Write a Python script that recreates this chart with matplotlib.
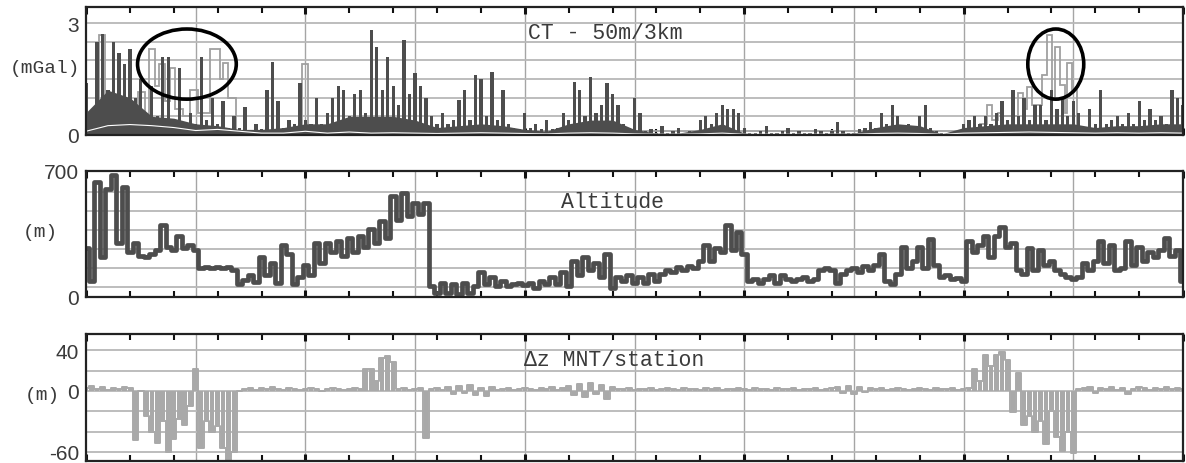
import numpy as np
import matplotlib
matplotlib.use("Agg")
import matplotlib.pyplot as plt
from matplotlib.patches import Ellipse

# ---------------- data ----------------
# Panel 1: CT - 50m/3km (mGal), dark series sampled every 5 units along track (0..1000)
ct_dark = [1.4, 0.2, 2.5, 2.7, 1.2, 2.5, 2.2, 1.9, 2.3, 1.0,
           1.5, 0.5, 1.3, 0.5, 2.1, 2.1, 0.4, 1.8, 0.3, 0.6,
           0.3, 2.1, 0.4, 1.0, 0.3, 0.9, 0.2, 0.5, 0.2, 0.75,
           0.1, 0.3, 0.15, 1.2, 1.96, 0.9, 0.2, 0.4, 0.3, 1.4,
           0.4, 0.3, 1.0, 0.3, 0.6, 1.0, 1.3, 1.2, 0.5, 1.1,
           1.2, 0.6, 2.8, 2.36, 1.2, 2.1, 1.3, 0.8, 2.55, 1.1,
           1.66, 1.3, 1.0, 0.5, 0.3, 0.6, 0.3, 0.4, 0.94, 1.2,
           0.4, 1.6, 1.5, 0.5, 1.7, 0.4, 1.2, 0.3, 0.2, 0.15,
           0.6, 0.2, 0.3, 0.15, 0.4, 0.15, 0.2, 0.6, 0.4, 1.42,
           1.2, 0.5, 1.56, 0.6, 0.8, 1.4, 1.1, 0.8, 0.3, 0.2,
           1.0, 0.6, 0.1, 0.15, 0.05, 0.25, 0.05, 0.1, 0.2, 0.05,
           0.1, 0.05, 0.4, 0.5, 0.3, 0.6, 0.8, 0.7, 0.7, 0.6,
           0.2, 0.05, 0.05, 0.1, 0.25, 0.05, 0.05, 0.1, 0.2, 0.05,
           0.1, 0.05, 0.05, 0.15, 0.1, 0.05, 0.1, 0.35, 0.1, 0.05,
           0.05, 0.15, 0.2, 0.35, 0.2, 0.6, 0.3, 0.8, 0.5, 0.2,
           0.3, 0.2, 0.5, 0.8, 0.2, 0.1, 0.05, 0.05, 0.05, 0.05,
           0.3, 0.4, 0.5, 0.3, 0.5, 0.3, 0.6, 0.9, 0.4, 1.2,
           0.5, 1.0, 0.4, 0.8, 0.8, 0.4, 1.2, 0.7, 1.0, 0.5,
           0.9, 0.6, 0.2, 0.7, 0.3, 1.2, 0.3, 0.4, 0.5, 0.3,
           0.6, 0.3, 0.9, 0.4, 0.7, 0.4, 0.5, 0.3, 1.2, 1.0,
           0.8]

# dense dark band near the base, every 20 units
ct_band = [0.6, 1.2, 1.0, 0.5, 0.45, 0.3, 0.25, 0.15, 0.15, 0.2,
           0.3, 0.3, 0.5, 0.5, 0.5, 0.4, 0.2, 0.25, 0.3, 0.25,
           0.15, 0.1, 0.3, 0.4, 0.4, 0.15, 0.05, 0.05, 0.15, 0.3,
           0.05, 0.03, 0.03, 0.03, 0.05, 0.05, 0.2, 0.3, 0.25, 0.03,
           0.2, 0.25, 0.3, 0.3, 0.3, 0.3, 0.2, 0.25, 0.25, 0.3,
           0.3]

# white trace near the base, every 20 units
ct_white = [0.1, 0.25, 0.28, 0.25, 0.2, 0.12, 0.15, 0.1, 0.05, 0.05,
            0.1, 0.05, 0.08, 0.05, 0.06, 0.05, 0.04, 0.05, 0.06, 0.05,
            0.04, 0.03, 0.05, 0.06, 0.05, 0.03, 0.02, 0.02, 0.03, 0.05,
            0.02, 0.02, 0.02, 0.02, 0.02, 0.02, 0.04, 0.05, 0.04, 0.02,
            0.05, 0.06, 0.07, 0.08, 0.07, 0.06, 0.05, 0.06, 0.05, 0.06,
            0.05]

# light grey series (step boxes): interval edges and values
ct_light_edges = [0, 12, 17, 47, 54, 57, 63, 67, 72, 77,
                  81, 88, 95, 102, 113, 122, 125, 129, 137, 197,
                  202, 815, 821, 826, 831, 836, 850, 854, 858, 862,
                  871, 876, 881, 883, 888, 892, 894, 899, 903, 1000]
ct_light_vals = [0.3, 2.68, 0.8, 1.15, 0.5, 2.3, 1.3, 1.9, 0.9, 1.8,
                 0.7, 0.5, 1.2, 0.6, 2.3, 1.5, 1.93, 1.0, 0.1, 1.9,
                 0.1, 0.3, 0.8, 0.4, 0.6, 0.5, 1.12, 0.7, 1.28, 0.8,
                 1.6, 2.68, 1.0, 2.36, 1.34, 0.6, 1.93, 1.2, 0.1]

# Panel 2: Altitude (m), every 5 units
altitude = [270, 90, 640, 220, 600, 680, 300, 610, 250, 300,
            230, 220, 240, 260, 400, 280, 260, 340, 270, 290,
            260, 160, 165, 160, 165, 160, 165, 150, 70, 95,
            120, 85, 220, 120, 190, 80, 290, 240, 70, 110,
            180, 120, 300, 190, 300, 250, 310, 230, 330, 250,
            340, 280, 380, 300, 420, 330, 560, 430, 580, 450,
            520, 460, 520, 60, 20, 80, 20, 70, 15, 75,
            20, 60, 140, 70, 110, 60, 90, 60, 70, 80,
            65, 80, 50, 90, 70, 110, 70, 140, 60, 200,
            120, 220, 150, 190, 110, 240, 50, 110, 90, 120,
            80, 110, 80, 130, 90, 130, 150, 140, 165, 150,
            170, 160, 200, 290, 200, 270, 250, 400, 260, 360,
            240, 90, 100, 80, 100, 120, 80, 120, 100, 90,
            100, 110, 90, 100, 150, 160, 150, 75, 130, 150,
            160, 140, 170, 150, 180, 240, 90, 70, 130, 280,
            160, 200, 280, 160, 320, 180, 110, 120, 100, 105,
            90, 310, 250, 290, 340, 220, 340, 390, 280, 300,
            150, 130, 270, 150, 260, 180, 200, 150, 130, 110,
            100, 110, 190, 150, 200, 310, 190, 290, 150, 160,
            310, 180, 280, 200, 250, 220, 260, 330, 230, 260,
            90]

# Panel 3: dz MNT/station (m), every 5 units
dz = [3, 5, 2, 4, 1, 3, 2, 4, 3,
      -48, 0, -25, -40, -51, -30, -60, -47, -28, -34, -15, 22, -56, -30, -40, -35, -56, -69, -60, 0,
      2, 3, 1, 3, 2, 4, 2, 1, 3, 2, 1, 2, 3, 2, 0, 2, 3, 2, 1, 2, 3, 2,
      22, 22, 10, 32, 34, 28,
      2, 3, 1, 2, 3, -46,
      2, 3, 1,
      4, -3, 5, -2, 6, -4, 3, -5, 4, 1,
      2, 3, 1, 2, 3, 2, 1, 3, 2, 4, 1, 3,
      5, -4, 7, -6, 8, -3, 6, -8, 4, 2,
      2, 3, 1, 2, 2, 3, 1, 2, 3, 2, 1, 3, 2, 2, 1, 3, 2, 3, 1, 2,
      2, 3, 2, 1, 3, 2, 2, 1, 3, 2, 2, 3, 1, 2, 2, 3, 1, 2, 3,
      4, -2, 5, -3, 4, -1, 3,
      2, 3, 1, 2, 3, 2, 1, 2, 3, 2, 1, 3, 2, 2, 3, 1,
      2, 3, 22, 10, 35, 25, 35, 38, 30, -21, 18, -34, -25, -40, -30, -52, -20, -45, -59, -40, -61,
      2, 3, 4, -2, 3, 2, 4, 1, 3, -3, 2, 4, 3, 1, 3, 2, 4, 2, 3, 2]

# highlighted zones (centre x, centre y, width, height) in panel-1 data units
ellipses = [(92, 1.9, 90, 1.88), (884, 1.9, 51, 1.88)]

ct_ticks = [0, 3]
alt_ticks = [0, 700]
alt_grid = [56, 161, 267, 372, 478, 583]
dz_ticks = [40, 0, -60]
dz_grid = [-60, -40, -20, 0, 20, 40]

# ---------------- drawing ----------------
DARK = "#4d4d4d"
LIGHT = "#a0a0a0"
DZCOL = "#a9a9a9"
TXT = "#3a3a3a"
MONO = ["Liberation Mono", "DejaVu Sans Mono"]
SANS = ["Liberation Sans", "DejaVu Sans"]

fig = plt.figure(figsize=(11.86, 4.64), dpi=100)
L, W = 0.0725, 0.925
ax1 = fig.add_axes([L, 0.7069, W, 0.2759])
ax2 = fig.add_axes([L, 0.3578, W, 0.2716])
ax3 = fig.add_axes([L, 0.0043, W, 0.2737])


def xs(arr):
    return np.linspace(0, 1000, len(arr))


def style(ax, ygrid):
    ax.set_xlim(0, 1000)
    for v in np.arange(100, 1000, 100):
        ax.axvline(v, color="#a5a5a5", lw=1.0, zorder=0.5)
    for v in ygrid:
        ax.axhline(v, color="#b8b8b8", lw=1.3, zorder=0.5)
    for s in ax.spines.values():
        s.set_linewidth(1.6)
        s.set_color("#222222")
        s.set_zorder(6)
    ax.set_xticks(np.arange(0, 1001, 200))
    ax.set_xticks(np.arange(0, 1001, 40), minor=True)
    ax.tick_params(axis="x", which="major", direction="in", top=True, bottom=True,
                   length=5, width=2.2, labelbottom=False, color="#111111")
    ax.tick_params(axis="x", which="minor", direction="in", top=True, bottom=True,
                   length=4, width=1.5, color="#111111")
    ax.tick_params(axis="y", which="both", length=0, pad=5, labelsize=15, labelcolor=TXT)
    for lab in ax.get_yticklabels():
        lab.set_family(SANS)


# Panel 1
ax1.set_ylim(0, 3.43)
ax1.set_yticks(ct_ticks)
ax1.set_yticklabels([str(t) for t in ct_ticks])
style(ax1, [0.5, 1.0, 1.5, 2.0, 2.5, 3.0])
ax1.stairs(ct_light_vals, ct_light_edges, color=LIGHT, lw=1.3, zorder=2)
ax1.fill_between(xs(ct_band), 0, ct_band, color=DARK, lw=0, zorder=3)
ax1.bar(xs(ct_dark), ct_dark, width=3.0, color=DARK, lw=0, zorder=3)
ax1.plot(xs(ct_white), ct_white, color="white", lw=0.8, zorder=4)
for cx, cy, w, h in ellipses:
    ax1.add_patch(Ellipse((cx, cy), w, h, fill=False, ec="black", lw=2.6, zorder=5))
ax1.text(0.473, 0.80, "CT - 50m/3km", transform=ax1.transAxes, ha="center", va="center",
         fontsize=15.5, family=MONO, color=TXT)

# Panel 2
ax2.set_ylim(0, 700)
ax2.set_yticks(alt_ticks)
ax2.set_yticklabels([str(t) for t in alt_ticks])
style(ax2, alt_grid)
ax2.plot(xs(altitude), altitude, drawstyle="steps-mid", color=DARK, lw=3.4, zorder=3)
ax2.text(0.48, 0.754, "Altitude", transform=ax2.transAxes, ha="center", va="center",
         fontsize=15.5, family=MONO, color=TXT)

# Panel 3
ax3.set_ylim(-69, 56)
ax3.set_yticks(dz_ticks)
ax3.set_yticklabels([str(t) if t >= 0 else "-" + str(-t) for t in dz_ticks])
style(ax3, dz_grid)
ax3.bar(xs(dz), dz, width=4.2, color=DZCOL, lw=0, zorder=3)
ax3.plot(xs(dz), dz, drawstyle="steps-mid", color=DZCOL, lw=1.4, zorder=3)
ax3.text(0.481, 0.80, "\u0394z MNT/station", transform=ax3.transAxes, ha="center", va="center",
         fontsize=15.5, family=MONO, color=TXT)

# unit labels
fig.text(0.0675, 0.853, "(mGal)", ha="right", va="center", fontsize=14, family=MONO, color=TXT)
fig.text(0.049, 0.498, "(m)", ha="right", va="center", fontsize=14, family=MONO, color=TXT)
fig.text(0.0506, 0.148, "(m)", ha="right", va="center", fontsize=14, family=MONO, color=TXT)

fig.savefig("out.png", dpi=100)
